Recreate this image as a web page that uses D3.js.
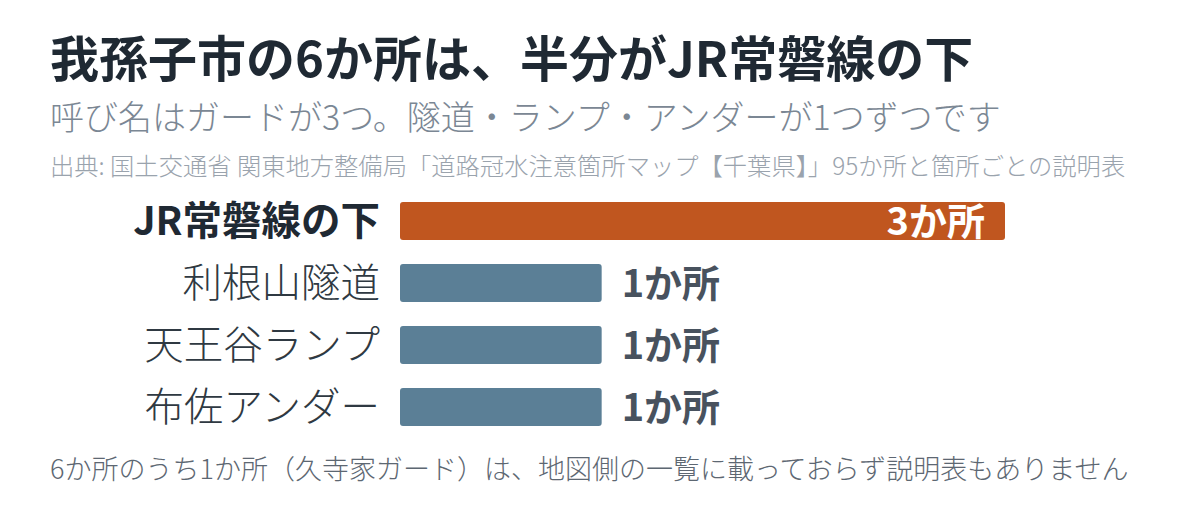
<!DOCTYPE html>
<html>
<head>
<meta charset="utf-8">
<script src="https://cdn.jsdelivr.net/npm/d3@7"></script>
<style>
  body { margin: 0; background: #fff; }
  svg { display: block; font-family: "Noto Sans CJK JP", "Noto Sans", sans-serif; }
</style>
</head>
<body>
<div class="chart"></div>
<script>
// data
var categories = ['JR常磐線の下', '利根山隧道', '天王谷ランプ', '布佐アンダー'];
var counts = [3, 1, 1, 1];
var valueLabels = ['3か所', '1か所', '1か所', '1か所'];
var highlight = 'JR常磐線の下';

var texts = {
  title: '我孫子市の6か所は、半分がJR常磐線の下',
  subtitle: '呼び名はガードが3つ。隧道・ランプ・アンダーが1つずつです',
  source: '出典: 国土交通省 関東地方整備局「道路冠水注意箇所マップ【千葉県】」95か所と箇所ごとの説明表',
  note: '6か所のうち1か所（久寺家ガード）は、地図側の一覧に載っておらず説明表もありません'
};

var settings = {
  w: 1200,
  h: 514,
  orange: '#c0561f',
  blue: '#5b7f96'
};

var rows = categories.map(function(c, i) {
  return {name: c, value: counts[i], label: valueLabels[i]};
});

var svg = d3.select('.chart')
  .append('svg')
  .attr('width', settings.w)
  .attr('height', settings.h);

// headings
svg.append('text')
  .attr('x', 50).attr('y', 77)
  .style('font-size', '49px').style('font-weight', 700)
  .attr('fill', '#1f2933')
  .text(texts.title);

svg.append('text')
  .attr('x', 50).attr('y', 130)
  .style('font-size', '34px').style('font-weight', 300)
  .attr('fill', '#7b8794')
  .text(texts.subtitle);

svg.append('text')
  .attr('x', 50).attr('y', 175)
  .style('font-size', '24.3px').style('font-weight', 300)
  .attr('fill', '#9aa3ad')
  .text(texts.source);

// scales
var x = d3.scaleLinear().domain([0, 3]).range([400, 1005]);
var y = d3.scaleBand().domain(categories).range([190, 438])
  .paddingInner(0.387).paddingOuter(0.1935);

var row = svg.selectAll('g.row')
  .data(rows)
  .enter()
  .append('g')
  .attr('class', 'row');

row.append('rect')
  .attr('x', x(0))
  .attr('y', function(d) { return y(d.name); })
  .attr('width', function(d) { return x(d.value) - x(0); })
  .attr('height', y.bandwidth())
  .attr('rx', 3)
  .attr('fill', function(d) { return d.name === highlight ? settings.orange : settings.blue; });

// category labels
row.append('text')
  .attr('x', 380)
  .attr('y', function(d) { return y(d.name) + y.bandwidth() / 2; })
  .attr('dy', '0.36em')
  .attr('text-anchor', 'end')
  .style('font-size', '39.5px')
  .style('font-weight', function(d) { return d.name === highlight ? 700 : 300; })
  .attr('fill', function(d) { return d.name === highlight ? '#1f2933' : '#2f3942'; })
  .text(function(d) { return d.name; });

// value labels: inside the big bar, outside the small ones
row.append('text')
  .attr('x', function(d) { return d.name === highlight ? x(d.value) - 20 : x(d.value) + 20; })
  .attr('y', function(d) { return y(d.name) + y.bandwidth() / 2; })
  .attr('dy', '0.36em')
  .attr('text-anchor', function(d) { return d.name === highlight ? 'end' : 'start'; })
  .style('font-size', '38px')
  .style('font-weight', 700)
  .attr('fill', function(d) { return d.name === highlight ? '#ffffff' : '#48525e'; })
  .text(function(d) { return d.label; });

// footnote
svg.append('text')
  .attr('x', 50).attr('y', 479)
  .style('font-size', '27px').style('font-weight', 300)
  .attr('fill', '#5d6772')
  .text(texts.note);
</script>
</body>
</html>
